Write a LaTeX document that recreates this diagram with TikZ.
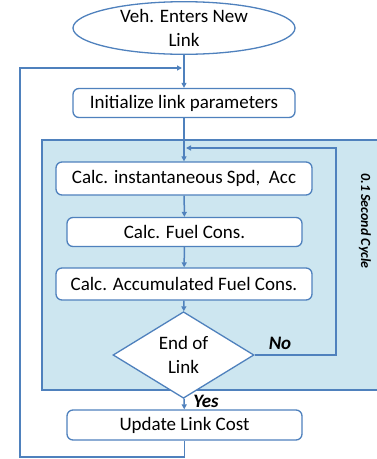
\documentclass[tikz,border=0pt]{standalone}
\usepackage{fontspec}
\setmainfont{Carlito}
\definecolor{flowblue}{RGB}{79,129,189}
\definecolor{cyclefill}{RGB}{205,230,240}
\usetikzlibrary{arrows.meta,positioning,shapes.geometric}

\begin{document}
\begin{tikzpicture}[x=1pt, y=-1pt, every node/.style={font=\fontsize{19}{24}\selectfont},
  bx/.style={rounded corners=6pt, minimum height=29pt, align=center, draw=flowblue, fill=white, line width=1.3pt, inner sep=2pt},
  ln/.style={draw=flowblue, line width=1.5pt},
  arr/.style={ln, -{Triangle[length=5pt, width=5pt]}},
  lbl/.style={font=\fontsize{19}{24}\selectfont\bfseries\itshape}]
\useasboundingbox (0,0) rectangle (377,459);
% Cycle region
\draw[ln, fill=cyclefill] (42,140) rectangle (390,390);
\node[rotate=-90, font=\fontsize{14}{17}\selectfont\bfseries\itshape] (cycle) at (365,221) {0.1 Second Cycle};
% Start
\node[ellipse, draw=flowblue, fill=white, line width=1.3pt, minimum width=222pt, minimum height=48pt, align=center, inner sep=0pt] (veh) at (184,28) {Veh. Enters New\\Link};
% Steps
\node[bx, minimum width=222pt] (init) at (184,103) {Initialize link parameters};
\node[bx, minimum width=256pt, minimum height=33pt] (spd) at (184,178.5) {Calc. instantaneous Spd,\ \ Acc};
\node[bx, minimum width=235pt] (fuel) at (184.5,232) {Calc. Fuel Cons.};
\node[bx, minimum width=256pt, minimum height=32pt] (accum) at (184,284) {Calc. Accumulated Fuel Cons.};
\node[diamond, draw=flowblue, fill=white, line width=1.3pt, minimum width=141pt, minimum height=70pt, inner sep=0pt, align=center] (end) at (183.5,355) {End of\\Link};
\node[bx, minimum width=235pt, minimum height=30pt] (update) at (184.5,425) {Update Link Cost};
% Labels
\node[lbl] (no) at (280,343) {No};
\node[lbl] (yes) at (206,401) {Yes};
% Loop points
\coordinate (loopin) at (186,148);
\coordinate (backin) at (182,68);
% Arrows
\draw[arr] (veh) -- (init);
\draw[arr] (init) -- (spd);
\draw[arr] (spd) -- (fuel);
\draw[arr] (fuel) -- (accum);
\draw[arr] (accum) -- (end);
\draw[arr] (end) -- (update);
\draw[arr] (end.east) -| (336,148) -- (loopin);
\draw[arr] (update.south) |- (20,457) |- (backin);
\end{tikzpicture}
\end{document}
